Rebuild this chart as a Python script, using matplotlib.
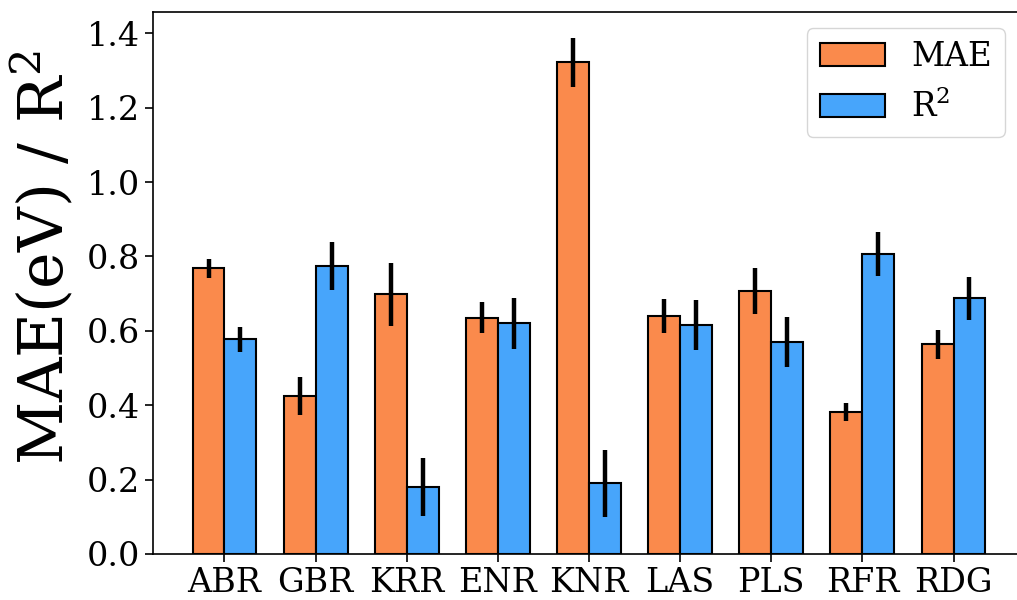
import numpy as np
import matplotlib
matplotlib.use("Agg")
import matplotlib.pyplot as plt

# Regression models compared
models = ["ABR", "GBR", "KRR", "ENR", "KNR", "LAS", "PLS", "RFR", "RDG"]

# Mean absolute error (eV) and its spread
mae = [0.768, 0.425, 0.698, 0.635, 1.322, 0.640, 0.706, 0.382, 0.564]
mae_err = [0.026, 0.050, 0.085, 0.042, 0.066, 0.046, 0.062, 0.025, 0.039]

# Coefficient of determination and its spread
r2 = [0.577, 0.774, 0.180, 0.620, 0.190, 0.615, 0.571, 0.807, 0.687]
r2_err = [0.033, 0.065, 0.077, 0.068, 0.090, 0.067, 0.067, 0.060, 0.058]

plt.rcParams["font.family"] = ["DejaVu Serif"]
plt.rcParams["mathtext.fontset"] = "dejavuserif"

fig = plt.figure(figsize=(10.17, 6.0), dpi=100)
ax = fig.add_axes([0.1504, 0.0767, 0.8575, 0.9033])

x = np.arange(len(models))
width = 0.35
orange = "#fa8a4c"
blue = "#47a5fb"

ax.bar(x - width / 2, mae, width, yerr=mae_err, color=orange, edgecolor="black",
       linewidth=1.5, error_kw=dict(elinewidth=3.2, ecolor="black", capsize=0),
       label="MAE")
ax.bar(x + width / 2, r2, width, yerr=r2_err, color=blue, edgecolor="black",
       linewidth=1.5, error_kw=dict(elinewidth=3.2, ecolor="black", capsize=0),
       label="R$^2$")

ax.set_xticks(x)
ax.set_xticklabels(models)
ax.set_yticks(np.arange(0, 1.41, 0.2))
ax.tick_params(axis="both", labelsize=24, length=6, width=1.2)
ax.set_ylabel("MAE(eV) / R$^2$", fontsize=44.5)
ax.yaxis.set_label_coords(-0.088, 0.547)
for s in ax.spines.values():
    s.set_linewidth(1.2)
ax.spines["right"].set_visible(False)

ax.legend(loc="upper right", bbox_to_anchor=(0.988, 0.953),
          bbox_transform=fig.transFigure, borderaxespad=0, fontsize=23.5)

fig.savefig("out.png", dpi=100)
